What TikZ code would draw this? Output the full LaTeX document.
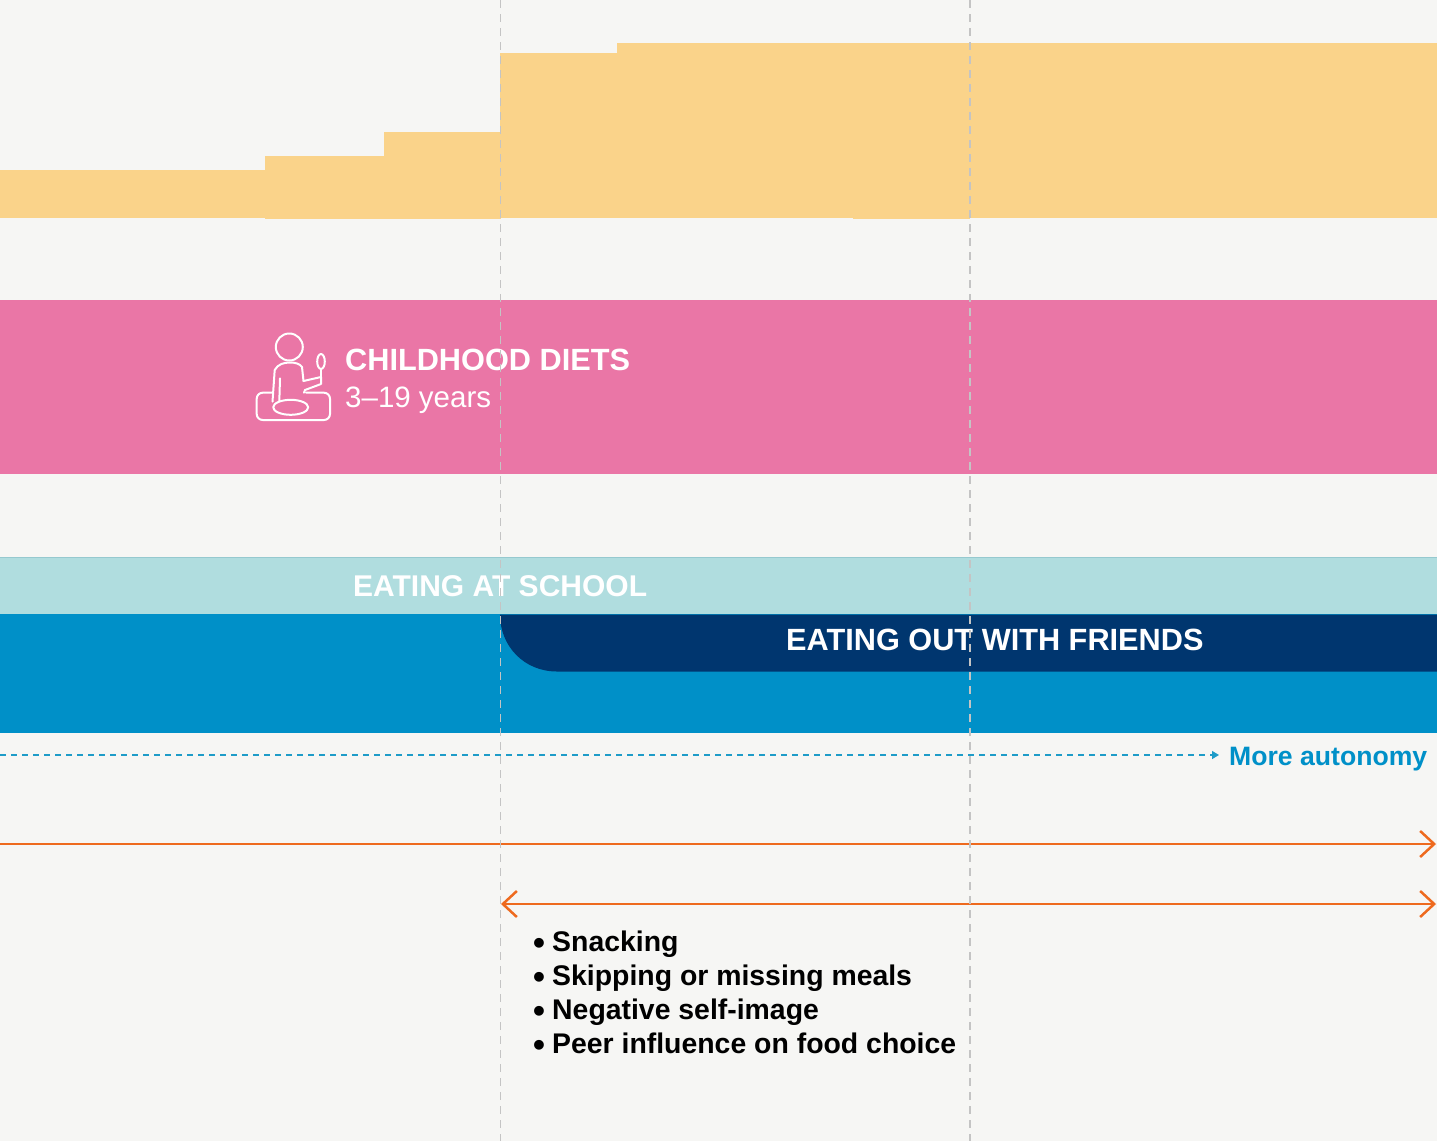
\documentclass[tikz,border=0pt]{standalone}
\usepackage{fontspec}
\setmainfont{Liberation Sans}
\usetikzlibrary{arrows.meta}
\definecolor{bg}{HTML}{F6F6F4}
\definecolor{ylw}{HTML}{FAD38A}
\definecolor{pnk}{HTML}{EA76A6}
\definecolor{ltb}{HTML}{B0DDDF}
\definecolor{ltbline}{HTML}{96C9CF}
\definecolor{blu}{HTML}{0090C8}
\definecolor{nav}{HTML}{00366F}
\definecolor{org}{HTML}{EE6A1E}
\definecolor{dsh}{HTML}{1E9CC8}
\definecolor{gry}{HTML}{C4C4C4}
\newcommand{\mybul}{\makebox[19pt][l]{\raisebox{-3.5pt}{\fontsize{34}{34}\selectfont\textbullet}}}
\begin{document}
\begin{tikzpicture}[x=1pt,y=-1pt,
  headtext/.style={text=white,font=\fontsize{30.7}{36}\selectfont\bfseries,inner sep=0pt,anchor=base west},
  schooltext/.style={text=white,font=\fontsize{30}{36}\selectfont\bfseries,inner sep=0pt,anchor=base west},
  subtext/.style={text=white,font=\fontsize{29.5}{34}\selectfont,inner sep=0pt,anchor=base west},
  listtext/.style={text=black,font=\fontsize{28.4}{34}\selectfont\bfseries,inner sep=0pt,anchor=base west},
  autotext/.style={text=blu,font=\fontsize{26.6}{32}\selectfont\bfseries,inner sep=0pt,anchor=base west},
  iconline/.style={draw=white,line width=2pt,line cap=round,line join=round},
  guide/.style={draw=gry,line width=1.5pt,dash pattern=on 8pt off 6pt},
  orangearrow/.style={draw=org,line width=2.5pt},
  chev/.tip={Straight Barb[length=14pt,width=26pt,line width=2.5pt]}
]
\useasboundingbox[fill=bg] (0,0) rectangle (1437,1141);

% yellow steps
\fill[ylw] (0,170) rectangle (266,218);
\fill[ylw] (265,156) rectangle (385,219);
\fill[ylw] (384,132) rectangle (501,219);
\fill[ylw] (500,53) rectangle (618,218);
\fill[ylw] (617,43) rectangle (1437,218);
\fill[ylw] (853,210) rectangle (970,219);

% pink band
\fill[pnk] (0,300) rectangle (1437,474);

% school band
\fill[ltb] (0,557) rectangle (1437,614);
\draw[ltbline,line width=1pt] (0,557.5) -- (1437,557.5);
\fill[blu] (0,614) rectangle (1437,733);
\fill[nav] (1437,614.5) -- (500,614.5) .. controls (500,646) and (524,671.5) .. (557,671.5) -- (1437,671.5) -- cycle;

% icon
\draw[iconline] (289.3,347) circle[radius=13.5pt];
\draw[iconline] (272.5,401.7) -- (274.7,370) .. controls (278,364) and (284,362.5) .. (290,362.5) .. controls (296,362.5) and (300,364) .. (302,367) -- (303.5,381);
\draw[iconline] (280,378.3) -- (279.3,401.7);
\draw[iconline] (303.5,381) -- (321,377) -- (321,384) -- (305,390) -- (304,392.7);
\draw[iconline] (321,361.5) ellipse[x radius=3.8pt,y radius=7.5pt];
\draw[iconline] (321,369) -- (321,377);
\draw[iconline,fill=pnk] (290.7,407.3) ellipse[x radius=17.5pt,y radius=7.5pt];
\draw[iconline,rounded corners=6pt] (272.5,392.7) -- (256.7,392.7) -- (256.7,420) -- (330,420) -- (330,392.7) -- (306,392.7);

% texts
\node[headtext] (cd) at (345,370) {CHILDHOOD DIETS};
\node[subtext] (age) at (345,407.7) {3–19 years};
\node[schooltext] (school) at (353,596) {EATING AT SCHOOL};
\node[headtext] (friends) at (786,650) {EATING OUT WITH FRIENDS};
\node[autotext] (auto) at (1229,765) {More autonomy};

\node[listtext] (l1) at (533,951) {\mybul Snacking};
\node[listtext] (l2) at (533,985) {\mybul Skipping or missing meals};
\node[listtext] (l3) at (533,1019) {\mybul Negative self-image};
\node[listtext] (l4) at (533,1053) {\mybul Peer influence on food choice};

% autonomy dashed arrow
\coordinate (a0) at (0,755);
\coordinate (a1) at (1219,755);
\draw[dsh,line width=1.3pt,dash pattern=on 6pt off 5pt,-{Triangle[length=7pt,width=8pt]}] (a0) -- (a1);

% orange arrows
\coordinate (o0) at (0,844);
\coordinate (o1) at (1436,844);
\draw[orangearrow,-chev] (o0) -- (o1);
\coordinate (d0) at (501,904);
\coordinate (d1) at (1436,904);
\draw[orangearrow,chev-chev] (d0) -- (d1);

% guides
\coordinate (g1t) at (500.5,0);
\coordinate (g1b) at (500.5,1141);
\coordinate (g2t) at (970,0);
\coordinate (g2b) at (970,1141);
\draw[guide] (g1t) -- (g1b);
\draw[guide] (g2t) -- (g2b);
\end{tikzpicture}
\end{document}
